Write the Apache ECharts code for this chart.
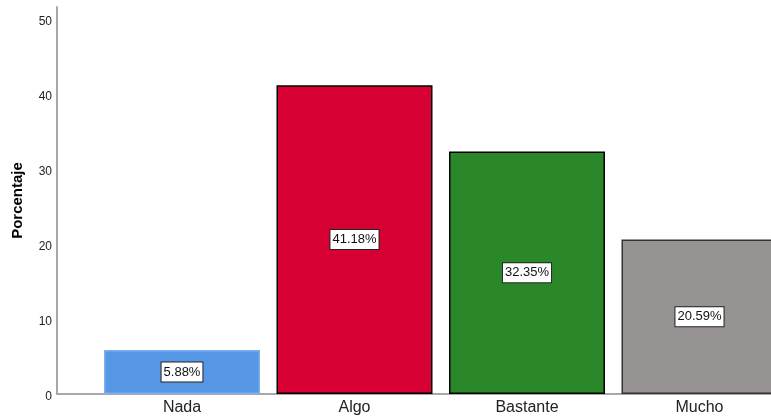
<!DOCTYPE html>
<html>
<head>
<meta charset="utf-8">
<script src="https://cdn.jsdelivr.net/npm/echarts@6/dist/echarts.min.js"></script>
<style>
html,body{margin:0;padding:0;background:#fff;overflow:hidden;}
#chart{width:771px;height:419px;}
</style>
</head>
<body>
<div id="chart"></div>
<script>
const categories = ['Nada', 'Algo', 'Bastante', 'Mucho'];
const values = [5.88, 41.18, 32.35, 20.59];
const barColors = ['#5596e5', '#d70032', '#2a882a', '#979392'];
const borderColors = ['#7fb0ee', '#000000', '#000000', '#333333'];
const yTicks = [0, 10, 20, 30, 40, 50];

const chart = echarts.init(document.getElementById('chart'), null, {renderer: 'canvas'});
const font = 'Arial, "Liberation Sans", sans-serif';
const yMax = 51.6;

chart.setOption({
  animation: false,
  backgroundColor: '#ffffff',
  grid: [
    {left: 57, width: 714, top: 7, height: 387, containLabel: false, outerBoundsMode: 'none'},
    {left: 95.75, width: 690, top: 7, height: 387, containLabel: false, outerBoundsMode: 'none'}
  ],
  xAxis: [
    {
      gridIndex: 0, type: 'category', data: categories,
      axisLine: {show: true, lineStyle: {color: '#a8a8a8', width: 2}},
      axisTick: {show: false}, axisLabel: {show: false}, splitLine: {show: false}
    },
    {
      gridIndex: 1, type: 'category', data: categories,
      axisLine: {show: false}, axisTick: {show: false},
      axisLabel: {color: '#222222', fontSize: 16, fontFamily: font, margin: 6}
    }
  ],
  yAxis: [
    {
      gridIndex: 0, type: 'value', min: 0, max: yMax, interval: 10,
      name: 'Porcentaje', nameLocation: 'middle', nameGap: 32,
      nameTextStyle: {fontWeight: 'bold', fontSize: 15, color: '#000000', fontFamily: font},
      axisLine: {show: true, lineStyle: {color: '#a8a8a8', width: 2}},
      axisTick: {show: false},
      axisLabel: {color: '#222222', fontSize: 12, fontFamily: font, margin: 5,
        verticalAlign: 'top', lineHeight: 6,
        formatter: v => (yTicks.indexOf(v) >= 0 ? String(v) : '')},
      splitLine: {show: false}
    },
    {
      gridIndex: 1, type: 'value', min: 0, max: yMax, show: false
    }
  ],
  series: [{
    type: 'bar',
    xAxisIndex: 1, yAxisIndex: 1,
    barWidth: 156,
    clip: false,
    data: values.map((v, i) => ({
      value: v,
      itemStyle: {color: barColors[i], borderColor: borderColors[i], borderWidth: 1.5}
    })),
    label: {
      show: true, position: 'inside',
      formatter: p => p.value.toFixed(2) + '%',
      color: '#111111', fontSize: 13, fontFamily: font,
      backgroundColor: '#ffffff', borderColor: '#222222', borderWidth: 1,
      padding: [4, 2, 2, 2]
    }
  }]
});
</script>
</body>
</html>
